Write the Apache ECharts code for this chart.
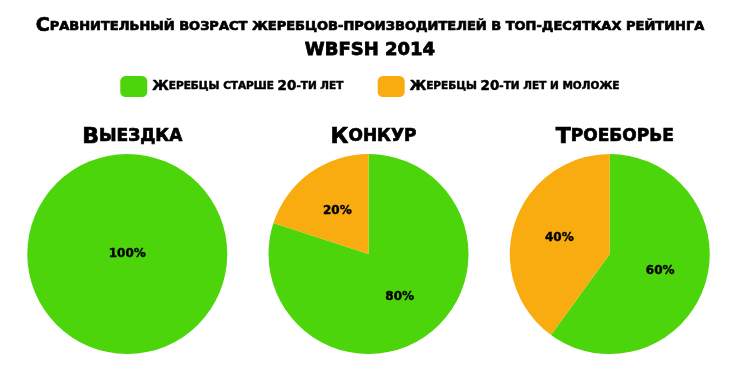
<!DOCTYPE html>
<html>
<head>
<meta charset="utf-8">
<script src="https://cdn.jsdelivr.net/npm/echarts@6/dist/echarts.min.js"></script>
<style>
  html, body { margin: 0; padding: 0; background: #fff; }
  #chart { width: 740px; height: 377px; }
</style>
</head>
<body>
<div id="chart"></div>
<script>
    // данные
    var disciplines = ['Выездка', 'Конкур', 'Троеборье'];
    var seriesNames = ['Жеребцы старше 20-ти лет', 'Жеребцы 20-ти лет и моложе'];
    var olderShare = [100, 80, 60];
    var youngerShare = [0, 20, 40];
    var colors = ['#4cd50a', '#f9ac10'];
    var centersX = ['17.2%', '49.8%', '82.4%'];

    var FONT = 'DejaVu Sans';

    // имитация капители: заглавные крупно, строчные - мелкими заглавными
    function smallCaps(str) {
        var out = '';
        var cur = null, buf = '';
        for (var i = 0; i < str.length; i++) {
            var ch = str[i];
            var big = (ch !== ch.toLowerCase() || /[0-9]/.test(ch));
            var kind = big ? 'b' : 's';
            if (kind !== cur && buf) {
                out += '{' + cur + '|' + buf + '}';
                buf = '';
            }
            cur = kind;
            buf += ch.toUpperCase();
        }
        if (buf) out += '{' + cur + '|' + buf + '}';
        return out;
    }

    // жирность как в оригинале - добавляем обводку
    function heavy(size, stroke) {
        return {
            fontFamily: FONT, fontWeight: 'bold', fontSize: size, color: '#000',
            textBorderColor: '#000', textBorderWidth: stroke
        };
    }

    function richPair(bigSize, smallSize, stroke) {
        return { b: heavy(bigSize, stroke), s: heavy(smallSize, stroke) };
    }

    var titles = [
        {
            text: smallCaps('Сравнительный возраст жеребцов-производителей в топ-десятках рейтинга'),
            left: 'center', top: 12,
            textStyle: { rich: richPair(19, 13, 0.7) }
        },
        {
            text: 'WBFSH 2014',
            left: 'center', top: 36,
            textStyle: heavy(18, 0.8)
        }
    ];
    var series = [];
    for (var i = 0; i < disciplines.length; i++) {
        titles.push({
            text: smallCaps(disciplines[i]),
            left: centersX[i], top: 121,
            textAlign: 'center',
            textStyle: { rich: richPair(22, 17, 0.7) }
        });
        var total = olderShare[i] + youngerShare[i];
        var data = [];
        if (olderShare[i] > 0) data.push({ name: seriesNames[0], value: olderShare[i], itemStyle: { color: colors[0] } });
        if (youngerShare[i] > 0) data.push({ name: seriesNames[1], value: youngerShare[i], itemStyle: { color: colors[1] } });
        // единственный сектор на весь круг - подпись в центре
        data.forEach(function (d) {
            if (d.value === total) d.label = { position: 'center' };
        });
        series.push({
            type: 'pie',
            center: [centersX[i], 254],
            radius: 100,
            startAngle: 90,
            clockwise: true,
            silent: true,
            data: data,
            label: {
                position: 'inside',
                formatter: '{c}%',
                fontFamily: FONT,
                fontWeight: 'bold',
                fontSize: 12,
                color: '#000',
                textBorderColor: '#000',
                textBorderWidth: 0.4
            },
            labelLine: { show: false }
        });
    }

    var myChart = echarts.init(document.getElementById('chart'));
    var option = {
        animation: false,
        color: colors,
        title: titles,
        legend: {
            data: seriesNames,
            top: 71,
            left: 'center',
            icon: 'roundRect',
            itemWidth: 27,
            itemHeight: 21,
            itemGap: 34,
            formatter: function (name) { return smallCaps(name); },
            textStyle: { rich: richPair(13.5, 10.5, 0.5) }
        },
        series: series
    };
    myChart.setOption(option);
</script>
</body>
</html>
